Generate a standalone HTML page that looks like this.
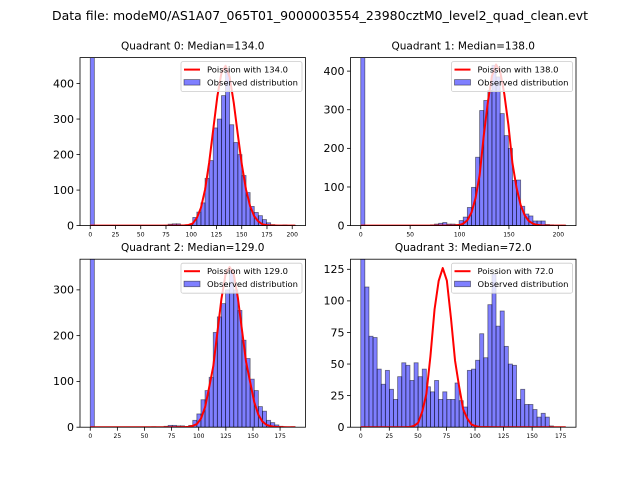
<!DOCTYPE html>
<html><head><meta charset="utf-8"><style>
body{margin:0;background:#fff}
svg{display:block;font-family:"DejaVu Sans","Liberation Sans",sans-serif}
</style></head><body>
<svg id="chart" width="640" height="480" viewBox="0 0 640 480" xmlns="http://www.w3.org/2000/svg">
<rect width="640" height="480" fill="#fff"/>
<text x="320" y="20" text-anchor="middle" font-size="12" textLength="536" lengthAdjust="spacingAndGlyphs">Data file: modeM0/AS1A07_065T01_9000003554_23980cztM0_level2_quad_clean.evt</text>
</svg>
<script>
const medians = [134, 138, 129, 72];
const dataMax = [203, 207.5, 189, 179.4];
const yLimits = [473, 435, 367, 133];
const peakHeights = [450, 417, 350, 126];
const xTicks0 = [0,25,50,75,100,125,150,175,200];
const xTicks1 = [0,50,100,150,200];
const xTicks2 = [0,25,50,75,100,125,150,175];
const xTicks3 = [0,25,50,75,100,125,150,175];
const yTicks0 = [0,100,200,300,400];
const yTicks1 = [0,100,200,300,400];
const yTicks2 = [0,100,200,300];
const yTicks3 = [0,25,50,75,100,125];
const counts0 = [2000,0,0,0,0,0,0,0,0,0,0,0,0,0,0,0,0,0,1,4,5,5,2,1,3,23,38,64,133,183,275,300,366,441,284,234,200,141,93,54,37,28,17,8,3,1,1,2,0,1];
const counts1 = [2000,0,0,0,0,0,0,0,0,0,0,0,0,0,0,0,0,2,4,6,8,4,4,3,13,22,47,99,177,298,324,350,415,385,290,233,200,117,118,50,30,25,12,12,12,3,2,1,1,1];
const counts2 = [2000,0,0,0,0,0,0,0,0,0,0,0,0,0,0,1,0,0,2,4,4,3,3,1,4,15,29,60,80,109,207,241,270,300,345,300,255,190,150,105,80,45,35,15,10,5,2,0,0,1];
const counts3 = [200,111,72,71,46,34,45,30,22,40,51,49,37,51,40,46,32,28,37,22,28,22,22,35,21,16,45,46,53,74,55,97,121,80,92,64,50,49,22,30,18,18,14,8,11,8,1,0,0,0];

const allCounts=[counts0,counts1,counts2,counts3];
const allX=[xTicks0,xTicks1,xTicks2,xTicks3];
const allY=[yTicks0,yTicks1,yTicks2,yTicks3];
const NS="http://www.w3.org/2000/svg";
const svg=document.getElementById('chart');
const boxes=[[80,57.6],[350.5,57.6],[80,259.2],[350.5,259.2]];
const W=225.5,H=168;
function mk(tag,attrs,parent){const e=document.createElementNS(NS,tag);for(const k in attrs)e.setAttribute(k,attrs[k]);(parent||svg).appendChild(e);return e;}
function lgamma(n){let s=0;for(let k=2;k<=n;k++)s+=Math.log(k);return s;}
function pois(k,l){return Math.exp(k*Math.log(l)-l-lgamma(k));}

for(let q=0;q<4;q++){
  const [ax,ay]=boxes[q];
  const M=dataMax[q],m=0.05*M;
  const xs=v=>ax+(v+m)/(M+2*m)*W;
  const ys=v=>ay+H-v/yLimits[q]*H;
  const g=mk('g',{});
  
  
  const cp=mk('clipPath',{id:'cp'+q},g);
  mk('rect',{x:ax,y:ay,width:W,height:H},cp);
  const plot=mk('g',{'clip-path':'url(#cp'+q+')'},g);
  const counts=allCounts[q],bw=M/counts.length;
  counts.forEach((c,i)=>{
    if(c<=0)return;
    const r=mk('rect',{x:xs(i*bw),y:ys(c),width:xs((i+1)*bw)-xs(i*bw),height:ys(0)-ys(c),fill:'rgba(0,0,255,0.5)',stroke:'rgba(0,0,0,0.5)','stroke-width':0.8},plot);
    
    
  });
  const lam=medians[q];let pts=[];let vals=[];
  for(let i=0;i<=counts.length;i++){const x=i*bw;vals.push([x,pois(Math.round(x),lam)]);}
  const pk=Math.max(...vals.map(v=>v[1]));
  vals.forEach(([x,p])=>pts.push(xs(x).toFixed(2)+','+ys(p/pk*peakHeights[q]).toFixed(2)));
  const pl=mk('polyline',{points:pts.join(' '),fill:'none',stroke:'#ff0000','stroke-width':2,'stroke-linejoin':'round'},plot);
  
  
  mk('rect',{x:ax,y:ay,width:W,height:H,fill:'none',stroke:'#000','stroke-width':0.8},g);
  allX[q].forEach(t=>{const x=xs(t);mk('line',{x1:x,x2:x,y1:ay+H,y2:ay+H+3.5,stroke:'#000','stroke-width':0.8},g);
    const tx=mk('text',{x:x,y:ay+H+11,'text-anchor':'middle','font-size':6},g);tx.textContent=t;
    
    });
  allY[q].forEach(t=>{const y=ys(t);mk('line',{x1:ax-3.5,x2:ax,y1:y,y2:y,stroke:'#000','stroke-width':0.8},g);
    const tx=mk('text',{x:ax-6,y:y+3.8,'text-anchor':'end','font-size':11},g);tx.textContent=t;
    
    });
  const ti=mk('text',{x:ax+W/2,y:ay-8,'text-anchor':'middle','font-size':10.5},g);
  ti.textContent='Quadrant '+q+': Median='+medians[q].toFixed(1);
  
  
  const lg=mk('g',{},g);
  
  
  const lx=ax+W-124.5,ly=ay+4;
  mk('rect',{x:lx,y:ly,width:121,height:30,rx:2,fill:'rgba(255,255,255,0.8)',stroke:'#ccc','stroke-width':0.8},lg);
  mk('line',{x1:lx+3,x2:lx+19,y1:ly+8,y2:ly+8,stroke:'#ff0000','stroke-width':2},lg);
  mk('rect',{x:lx+3,y:ly+18,width:16,height:5.5,fill:'rgba(0,0,255,0.5)',stroke:'rgba(0,0,0,0.5)','stroke-width':0.8},lg);
  const t1=mk('text',{x:lx+26,y:ly+11,'font-size':8,textLength:(q===3?76:81),lengthAdjust:'spacingAndGlyphs'},lg);t1.textContent='Poission with '+medians[q].toFixed(1);
  
  
  const t2=mk('text',{x:lx+26,y:ly+24,'font-size':8,textLength:91,lengthAdjust:'spacingAndGlyphs'},lg);t2.textContent='Observed distribution';
  
  
}
</script>
</body></html>
